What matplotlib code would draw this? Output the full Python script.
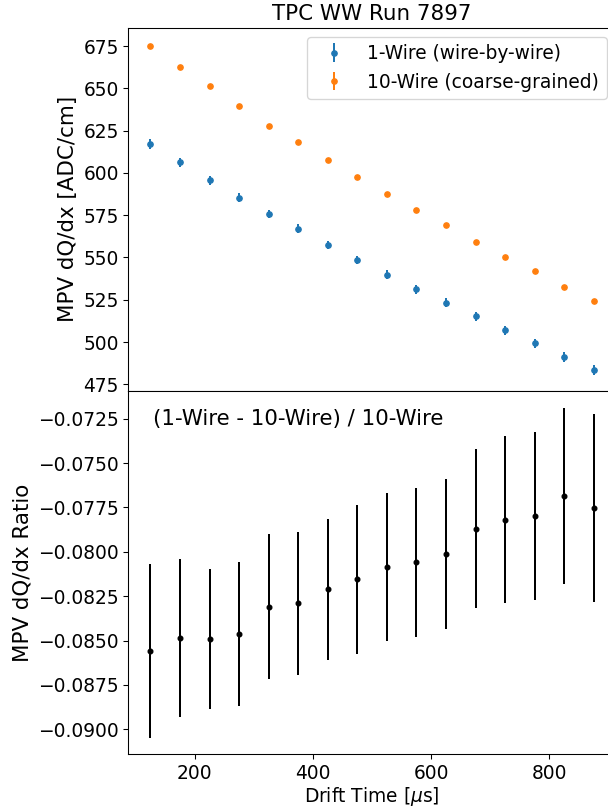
import matplotlib
matplotlib.use("Agg")
import matplotlib.pyplot as plt

# drift time bin centres [us]
drift_time = [125, 175, 225, 275, 325, 375, 425, 475,
              525, 575, 625, 675, 725, 775, 825, 875]

# MPV dQ/dx, wire-by-wire fit
mpv_1wire = [616.9, 606.2, 595.6, 585.3, 575.7, 567.0, 557.4, 548.5,
             539.8, 531.3, 523.2, 515.2, 506.9, 499.4, 491.3, 483.5]
mpv_1wire_err = [3.0, 2.8, 2.6, 2.6, 2.6, 2.6, 2.6, 2.6,
                 2.6, 2.6, 2.6, 2.6, 2.7, 2.7, 2.8, 2.8]

# MPV dQ/dx, 10-wire groups
mpv_10wire = [675.0, 662.6, 651.2, 639.7, 627.9, 618.4, 607.4, 597.4,
              587.5, 578.0, 569.0, 559.3, 550.1, 542.0, 532.7, 524.4]
mpv_10wire_err = [1.2, 1.1, 1.1, 1.1, 1.0, 1.0, 1.0, 1.0,
                  1.0, 1.0, 1.0, 1.0, 1.0, 1.0, 1.0, 1.0]

# (1-wire - 10-wire) / 10-wire
ratio = [-0.08559, -0.08486, -0.08490, -0.08462, -0.08309, -0.08290, -0.08211, -0.08155,
         -0.08084, -0.08059, -0.08012, -0.07869, -0.07818, -0.07797, -0.07686, -0.07752]
ratio_err = [0.00489, 0.00447, 0.00395, 0.00406, 0.00409, 0.00402, 0.00398, 0.00418,
             0.00416, 0.00419, 0.00422, 0.00449, 0.00468, 0.00474, 0.00498, 0.00528]

plt.rcParams["font.size"] = 14

fig = plt.figure(figsize=(608 / 96, 809 / 96), dpi=96)
ax_top = fig.add_axes([0.211, 0.5164, 0.802, 0.4496])
ax_bot = fig.add_axes([0.211, 0.0676, 0.802, 0.4488], sharex=ax_top)

ax_top.errorbar(drift_time, mpv_1wire, yerr=mpv_1wire_err, fmt="o",
                markersize=4, label="1-Wire (wire-by-wire)")
ax_top.errorbar(drift_time, mpv_10wire, yerr=mpv_10wire_err, fmt="o",
                markersize=4, label="10-Wire (coarse-grained)")
ax_top.set_ylabel("MPV dQ/dx [ADC/cm]", fontsize=16)
ax_top.set_title("TPC WW Run 7897", fontsize=16)
ax_top.legend(loc="upper right", fontsize=14)
ax_top.tick_params(axis="x", which="both", bottom=False, labelbottom=False)

ax_bot.errorbar(drift_time, ratio, yerr=ratio_err, fmt="o", color="k",
                markersize=3.5)
ax_bot.text(0.05, 0.95, "(1-Wire - 10-Wire) / 10-Wire", transform=ax_bot.transAxes,
            ha="left", va="top", fontsize=16)
ax_bot.set_ylabel("MPV dQ/dx Ratio", fontsize=16)
ax_bot.set_xlabel(r"Drift Time [$\mu$s]", labelpad=2)

fig.savefig("out.png", dpi=96)
